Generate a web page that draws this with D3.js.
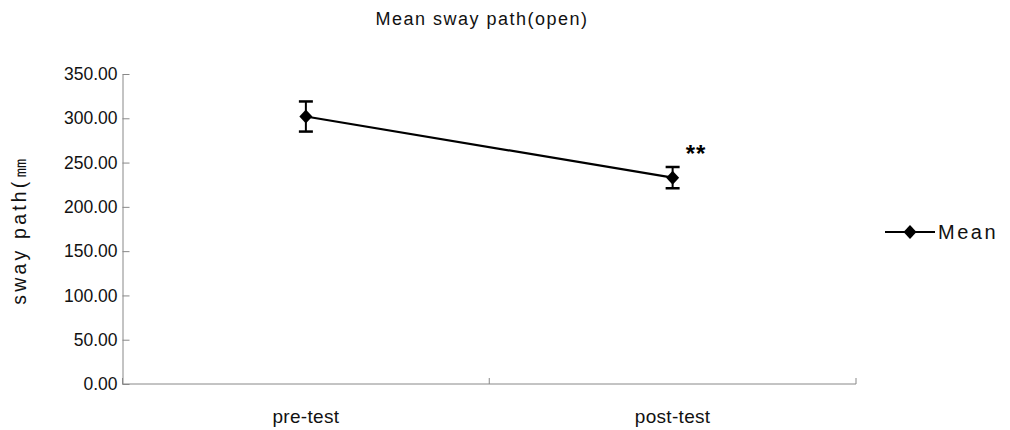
<!DOCTYPE html>
<html>
<head>
<meta charset="utf-8">
<script src="https://cdn.jsdelivr.net/npm/d3@7"></script>
<style>
  body { margin: 0; background: #fff; }
  svg { display: block; font-family: "Liberation Sans", Arial, sans-serif; }
</style>
</head>
<body>
<svg id="chart" width="1010" height="430"></svg>
<script>
// Mean sway path, eyes open, before and after the intervention
const categories = ["pre-test", "post-test"];
const means = [302, 233];
const errors = [17, 12];
const yTicks = [0, 50, 100, 150, 200, 250, 300, 350];
const marks = ["", "**"];

const svg = d3.select("#chart");
const margin = { left: 122.5, right: 154, top: 74, bottom: 46 };
const W = 1010, H = 430;
const plotW = W - margin.left - margin.right;
const plotH = H - margin.top - margin.bottom;

const g = svg.append("g").attr("transform", `translate(${margin.left},${margin.top})`);

const x = d3.scaleBand().domain(categories).range([0, plotW]).padding(0);
const y = d3.scaleLinear().domain([0, 350]).range([plotH, 0]);
const cx = d => x(d) + x.bandwidth() / 2;

// y axis, ticks pointing into the plot
const yAxis = d3.axisLeft(y).tickValues(yTicks).tickFormat(d3.format(".2f"))
  .tickSizeInner(-7).tickSizeOuter(0).tickPadding(5);
const ya = g.append("g").call(yAxis);
ya.select(".domain").attr("stroke", "#888");
ya.selectAll(".tick line").attr("stroke", "#888");
ya.selectAll("text").attr("font-size", 17.5).attr("fill", "#111");

// x axis baseline with category boundary ticks
g.append("line").attr("x1", 0).attr("x2", plotW).attr("y1", plotH).attr("y2", plotH).attr("stroke", "#888");
const bounds = [0, x.bandwidth(), plotW];
g.selectAll(".xb").data(bounds).enter().append("line")
  .attr("x1", d => d).attr("x2", d => d).attr("y1", plotH).attr("y2", plotH - 6).attr("stroke", "#888");
g.selectAll(".xl").data(categories).enter().append("text")
  .attr("x", d => cx(d)).attr("y", plotH + 39).attr("text-anchor", "middle")
  .attr("font-size", 19).attr("letter-spacing", 0.3).attr("fill", "#111").text(d => d);

// connecting line
const line = d3.line().x((d, i) => cx(categories[i])).y(d => y(d));
g.append("path").datum(means).attr("d", line).attr("fill", "none").attr("stroke", "#000").attr("stroke-width", 2.2);

// error bars
categories.forEach((c, i) => {
  const xc = cx(c);
  const top = y(means[i] + errors[i]), bot = y(means[i] - errors[i]);
  g.append("line").attr("x1", xc).attr("x2", xc).attr("y1", top).attr("y2", bot).attr("stroke", "#000").attr("stroke-width", 2);
  [top, bot].forEach(yy => g.append("line").attr("x1", xc - 7).attr("x2", xc + 7).attr("y1", yy).attr("y2", yy)
    .attr("stroke", "#000").attr("stroke-width", 2.5));
});

// diamond markers
const diamond = "M0,-7L6.5,0L0,7L-6.5,0Z";
g.selectAll(".pt").data(means).enter().append("path")
  .attr("d", diamond)
  .attr("transform", (d, i) => `translate(${cx(categories[i])},${y(d)})`)
  .attr("fill", "#000");

// significance marks
g.selectAll(".sig").data(marks).enter().append("text")
  .attr("x", (d, i) => cx(categories[i]) + 13)
  .attr("y", (d, i) => y(means[i] + errors[i]) - 5)
  .attr("font-size", 24).attr("font-weight", "bold").attr("letter-spacing", 1).attr("fill", "#000")
  .text(d => d);

// title
svg.append("text").attr("x", 482).attr("y", 25).attr("text-anchor", "middle")
  .attr("font-size", 18).attr("letter-spacing", 1.5).attr("fill", "#111").text("Mean sway path(open)");

// y axis title
svg.append("text").attr("transform", "translate(26,230) rotate(-90)").attr("text-anchor", "middle")
  .attr("font-size", 19.5).attr("letter-spacing", 3.2).attr("fill", "#111").text("sway path(㎜");

// legend
const lg = svg.append("g").attr("transform", "translate(885,232)");
lg.append("line").attr("x1", 0).attr("x2", 50).attr("y1", 0).attr("y2", 0).attr("stroke", "#000").attr("stroke-width", 2);
lg.append("path").attr("d", diamond).attr("transform", "translate(25,0)").attr("fill", "#000");
lg.append("text").attr("x", 53).attr("y", 7).attr("font-size", 20).attr("fill", "#111").attr("letter-spacing", 2.5).text("Mean");
</script>
</body>
</html>
